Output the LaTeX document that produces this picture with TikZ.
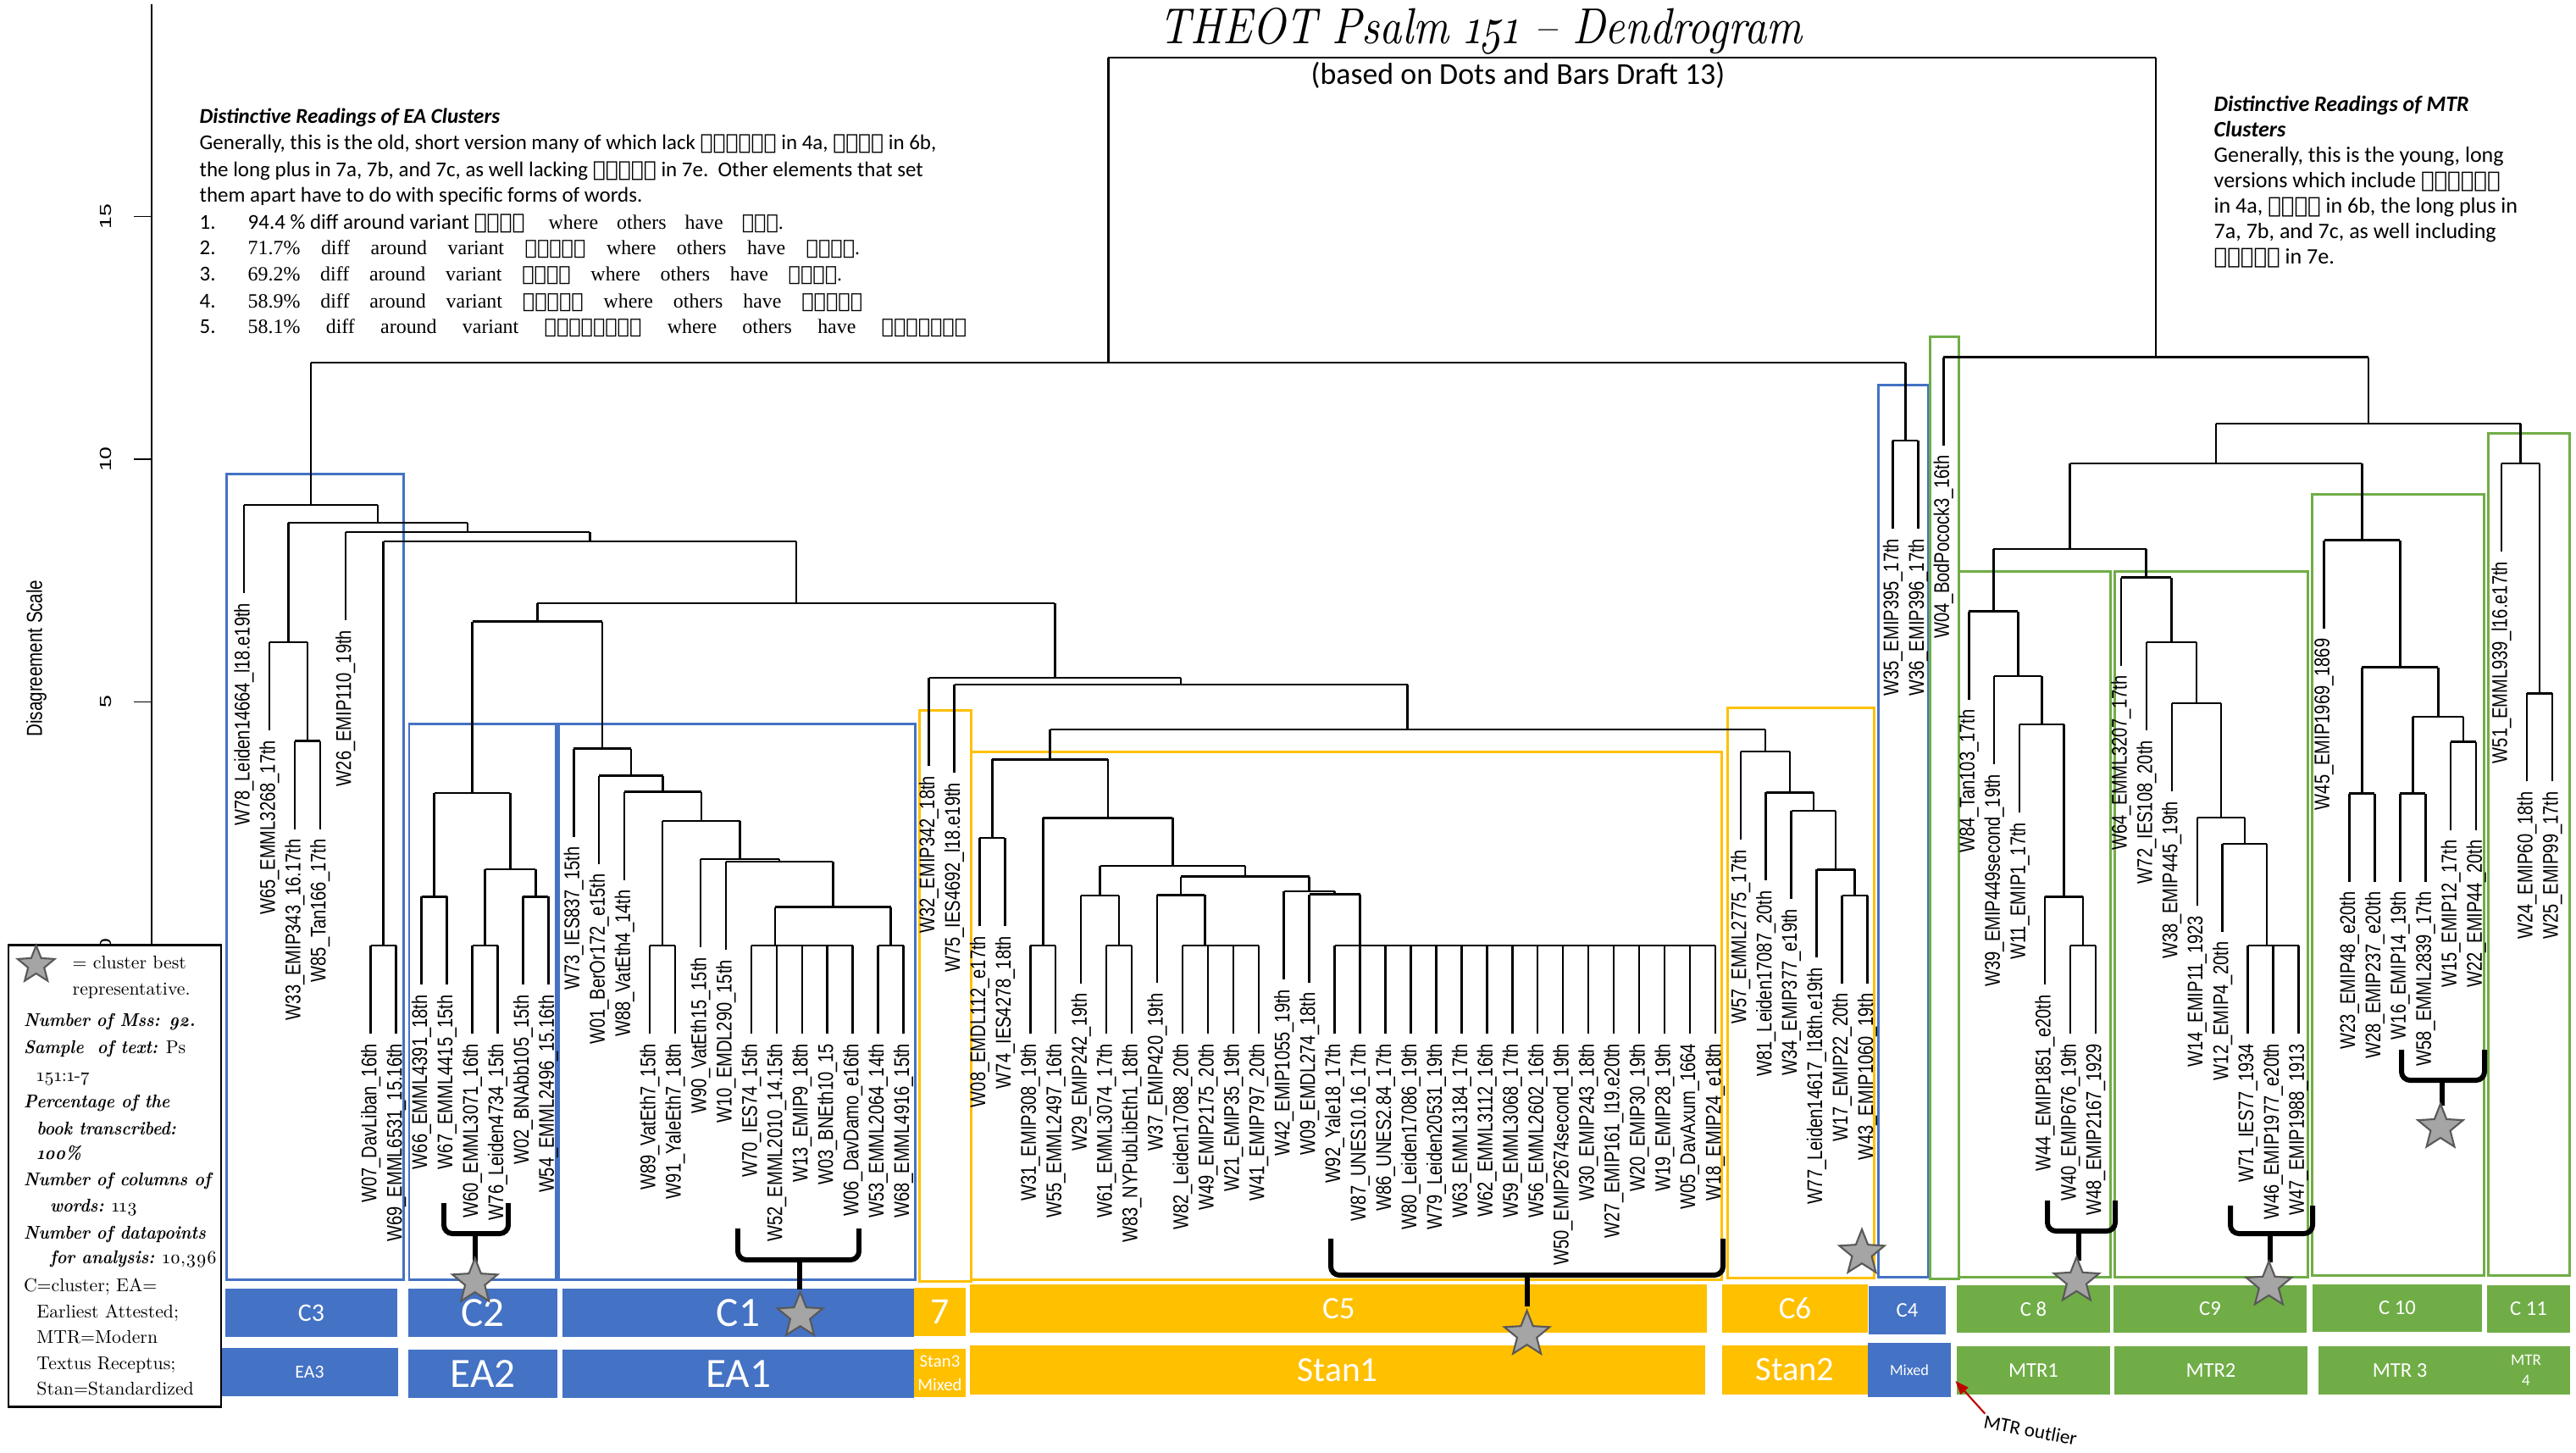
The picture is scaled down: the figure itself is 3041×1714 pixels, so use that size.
\documentclass[tikz,border=0pt]{standalone}
\usepackage{fontspec}
\usetikzlibrary{shapes.geometric,arrows.meta}
\setmainfont{Carlito}
\newfontfamily\leaffont[FakeStretch=0.8]{Liberation Sans}
\newfontfamily\tickfont[FakeStretch=1.4]{Liberation Sans}
\newfontfamily\serfont{Liberation Serif}
\newfontfamily\legfont{lmroman10-regular.otf}[Numbers=OldStyle,
  ItalicFont=lmroman10-italic.otf, BoldFont=lmroman10-bold.otf,
  BoldItalicFont=lmroman10-bolditalic.otf,
  BoldItalicFeatures={FakeStretch=0.9}]
\newfontfamily\titfont{lmroman10-italic.otf}[Numbers=OldStyle, FakeStretch=0.86]
\newfontfamily\ethfont{DejaVu Sans}
\newcommand{\ethw}[1]{{\ethfont #1}}
\definecolor{eablue}{HTML}{4472C4}
\definecolor{stanyel}{HTML}{FFC000}
\definecolor{mtrgreen}{HTML}{70AD47}
\definecolor{stargray}{HTML}{A5A5A5}
\definecolor{stardark}{HTML}{595959}
\definecolor{arrowred}{HTML}{C00000}
\begin{document}
\begin{tikzpicture}[x=0.01cm, y=-0.01cm,
  br/.style={line width=0.7pt},
  leaf/.style={rotate=90, anchor=east, inner sep=0pt, outer xsep=3.4pt, font=\leaffont\fontsize{7.15}{7.5}\selectfont},
  cbox/.style={line width=0.85pt},
  bar/.style={inner sep=0pt, text=white, align=center},
  starn/.style={star, star points=5, star point ratio=2.3, fill=stargray, draw=stardark, line width=0.6pt, inner sep=0pt, minimum size=0.56cm},
  brc/.style={line width=1.7pt, rounded corners=0.1cm},
  txt/.style={anchor=base west, inner sep=0pt, font=\fontsize{7.1}{8.5}\selectfont},
  rtxt/.style={anchor=base west, inner sep=0pt, font=\fontsize{7.4}{8.5}\selectfont},
  itm/.style={anchor=base west, inner sep=0pt, font=\serfont\fontsize{6.8}{8}\selectfont},
  lg/.style={anchor=base west, inner sep=0pt, font=\legfont\fontsize{6.2}{7}\selectfont}]
    \useasboundingbox (0,0) rectangle (3041,1714);

    % Заголовок
    \node[anchor=base, inner sep=0pt, font=\titfont\fontsize{17}{20}\selectfont] (title) at (1748,51.7) {THEOT Psalm 151 – Dendrogram};
    \node[anchor=base, inner sep=0pt, font=\fontsize{10.2}{12}\selectfont] (subt) at (1792,99) {(based on Dots and Bars Draft 13)};

    % Текст EA
    \node[txt, font=\bfseries\itshape\fontsize{7.1}{8.5}\selectfont] (ea0) at (235,145) {Distinctive Readings of EA Clusters};
    \node[txt] (ea1) at (235,176.7) {Generally, this is the old, short version many of which lack \ethw{ወአድኃነኒ} in 4a, \ethw{ርኵሳነ} in 6b,};
    \node[txt] (ea2) at (235,208) {the long plus in 7a, 7b, and 7c, as well lacking \ethw{ለጎልያድ} in 7e.\ \ Other elements that set};
    \node[txt] (ea3) at (235,238) {them apart have to do with specific forms of words.};
    \node[txt] (n1) at (235,270) {1.};
    \node[txt] (n2) at (235,300) {2.};
    \node[txt] (n3) at (235,331.7) {3.};
    \node[txt] (n4) at (235,363) {4.};
    \node[txt] (n5) at (235,393) {5.};
    \node[txt] (i1a) at (292,270) {94.4 \% diff around variant \ethw{ይነግር}};
    \node[itm] (i1b) at (647,270) {\makebox[2.77cm][s]{where others have \ethw{ነገር}.}};
    \node[itm] (i2) at (292,300) {\makebox[7.22cm][s]{71.7\% diff around variant \ethw{ይሰመዐኒ} where others have \ethw{ሰምዓኒ}.}};
    \node[itm] (i3) at (292,331.7) {\makebox[7.01cm][s]{69.2\% diff around variant \ethw{እደዊየ} where others have \ethw{እደውየ}.}};
    \node[itm] (i4) at (292,363) {\makebox[7.25cm][s]{58.9\% diff around variant \ethw{አኃዊየሰ} where others have \ethw{አኃውየሰ}}};
    \node[itm] (i5) at (292,393) {\makebox[8.48cm][s]{58.1\% diff around variant \ethw{በአማልክቲሆሙ} where others have \ethw{በአማልክቲሆ}}};

    % Текст MTR
    \node[rtxt, font=\bfseries\itshape\fontsize{7.4}{8.5}\selectfont] (m0) at (2613,131) {Distinctive Readings of MTR};
    \node[rtxt, font=\bfseries\itshape\fontsize{7.4}{8.5}\selectfont] (m1) at (2613,161.7) {Clusters};
    \node[rtxt] (m2) at (2613,191.7) {Generally, this is the young, long};
    \node[rtxt] (m3) at (2613,221.7) {versions which include \ethw{ወአድኃነኒ}};
    \node[rtxt] (m4) at (2613,251.7) {in 4a, \ethw{ርኵሳነ} in 6b, the long plus in};
    \node[rtxt] (m5) at (2613,281.7) {7a, 7b, and 7c, as well including};
    \node[rtxt] (m6) at (2613,311.7) {\ethw{ለጎልያድ} in 7e.};

    % Ось
    \draw[line width=0.8pt] (179,5) -- (179,1115);
    \draw[line width=0.45pt] (158,255.5) -- (179,255.5);
    \draw[line width=0.45pt] (158,542) -- (179,542);
    \draw[line width=0.45pt] (158,828.5) -- (179,828.5);
    \draw[line width=0.45pt] (158,1115) -- (179,1115);
    \node[rotate=90, inner sep=0pt, font=\tickfont\fontsize{5.4}{6}\selectfont] (t15) at (125,255.5) {15};
    \node[rotate=90, inner sep=0pt, font=\tickfont\fontsize{5.4}{6}\selectfont] (t10) at (125,542) {10};
    \node[rotate=90, inner sep=0pt, font=\tickfont\fontsize{5.4}{6}\selectfont] (t5) at (125,828.5) {5};
    \node[rotate=90, inner sep=0pt, font=\tickfont\fontsize{5.4}{6}\selectfont] (t0) at (125,1115) {0};
    \node[rotate=90, inner sep=0pt, font=\leaffont\fontsize{7.3}{8}\selectfont] (axlab) at (43,777) {Disagreement Scale};

    % Рамки кластеров
    \draw[cbox, eablue] (267.9,559) rectangle (476.6,1510);
    \draw[cbox, eablue] (483,854) rectangle (656.5,1510);
    \draw[cbox, eablue] (659.2,854) rectangle (1080.3,1510);
    \draw[cbox, stanyel] (1085,838) rectangle (1146,1512);
    \draw[cbox, stanyel] (1146.3,887.7) rectangle (2032,1510);
    \draw[cbox, stanyel] (2039.3,835) rectangle (2212.5,1508);
    \draw[cbox, eablue] (2217,454) rectangle (2276,1507);
    \draw[cbox, mtrgreen] (2278.5,397) rectangle (2312,1509);
    \draw[cbox, mtrgreen] (2312,674) rectangle (2491,1507);
    \draw[cbox, mtrgreen] (2496.7,674) rectangle (2724,1507);
    \draw[cbox, mtrgreen] (2729.3,583) rectangle (2932.7,1505);
    \draw[cbox, mtrgreen] (2937.3,511.5) rectangle (3033.3,1505);

    % Корень
    \draw[br] (1308.3,68) -- (2545,68);
    \draw[br] (367.1,428) -- (2249.4,428) (1308.3,428) -- (1308.3,68);
    \draw[br] (2234.4,520) -- (2264.4,520) (2249.4,520) -- (2249.4,428);
    % EA3
    \draw[br] (288,596) -- (446.2,596) (367.1,596) -- (367.1,428);
    \draw[br] (340.4,617) -- (552,617) (446.2,617) -- (446.2,596);
    \draw[br] (317.9,758) -- (362.9,758) (340.4,758) -- (340.4,617);
    \draw[br] (347.9,874.5) -- (377.8,874.5) (362.9,874.5) -- (362.9,758);
    \draw[br] (407.8,628) -- (696.3,628) (552,628) -- (552,617);
    \draw[br] (452.7,639) -- (939.8,639) (696.3,639) -- (696.3,628);
    \draw[br] (437.7,1116) -- (467.7,1116) (452.7,1116) -- (452.7,639);
    \draw[br] (634.3,712) -- (1245.3,712) (939.8,712) -- (939.8,639);
    \draw[br] (557.5,733.7) -- (711.1,733.7) (634.3,733.7) -- (634.3,712);
    % C2
    \draw[br] (512.6,935.8) -- (602.4,935.8) (557.5,935.8) -- (557.5,733.7);
    \draw[br] (497.6,1058.3) -- (527.6,1058.3) (512.6,1058.3) -- (512.6,935.8);
    \draw[br] (572.5,1025.8) -- (632.4,1025.8) (602.4,1025.8) -- (602.4,935.8);
    \draw[br] (557.5,1116) -- (587.5,1116) (572.5,1116) -- (572.5,1025.8);
    \draw[br] (617.4,1058.3) -- (647.3,1058.3) (632.4,1058.3) -- (632.4,1025.8);
    % C1
    \draw[br] (677.3,883.7) -- (744.9,883.7) (711.1,883.7) -- (711.1,733.7);
    \draw[br] (707.2,915.6) -- (782.5,915.6) (744.9,915.6) -- (744.9,883.7);
    \draw[br] (737.2,934.6) -- (827.9,934.6) (782.5,934.6) -- (782.5,915.6);
    \draw[br] (782.1,968.9) -- (873.6,968.9) (827.9,968.9) -- (827.9,934.6);
    \draw[br] (767.1,1116) -- (797.1,1116) (782.1,1116) -- (782.1,968.9);
    \draw[br] (827.0,1014.2) -- (920.2,1014.2) (873.6,1014.2) -- (873.6,968.9);
    \draw[br] (857.0,1017.2) -- (983.3,1017.2) (920.2,1017.2) -- (920.2,1014.2);
    \draw[br] (915,1070.5) -- (1051.6,1070.5) (983.3,1070.5) -- (983.3,1017.2);
    \draw[br] (886.9,1116) -- (1006.7,1116) (915,1116) -- (915,1070.5);
    \draw[br] (1036.6,1116) -- (1066.6,1116) (1051.6,1116) -- (1051.6,1070.5);
    % Stan
    \draw[br] (1096.5,800) -- (1394.1,800) (1245.3,800) -- (1245.3,712);
    \draw[br] (1126.5,808) -- (1661.7,808) (1394.1,808) -- (1394.1,800);
    \draw[br] (1239.6,861) -- (2083.8,861) (1661.7,861) -- (1661.7,808);
    % C5
    \draw[br] (1171.4,896.3) -- (1307.8,896.3) (1239.6,896.3) -- (1239.6,861);
    \draw[br] (1156.4,989) -- (1186.4,989) (1171.4,989) -- (1171.4,896.3);
    \draw[br] (1231.3,965.3) -- (1384.3,965.3) (1307.8,965.3) -- (1307.8,896.3);
    \draw[br] (1216.3,1116) -- (1246.2,1116) (1231.3,1116) -- (1231.3,965.3);
    \draw[br] (1298.7,1022) -- (1470,1022) (1384.3,1022) -- (1384.3,965.3);
    \draw[br] (1276.2,1056.8) -- (1321.1,1056.8) (1298.7,1056.8) -- (1298.7,1022);
    \draw[br] (1306.1,1116) -- (1336.1,1116) (1321.1,1116) -- (1321.1,1056.8);
    \draw[br] (1394.2,1034.7) -- (1545.7,1034.7) (1470,1034.7) -- (1470,1022);
    \draw[br] (1366.0,1056.4) -- (1422.3,1056.4) (1394.2,1056.4) -- (1394.2,1034.7);
    \draw[br] (1396.0,1116) -- (1485.8,1116) (1422.3,1116) -- (1422.3,1056.4);
    \draw[br] (1515.7,1052) -- (1575.6,1052) (1545.7,1052) -- (1545.7,1034.7);
    \draw[br] (1545.7,1055.5) -- (1605.5,1055.5) (1575.6,1055.5) -- (1575.6,1052);
    \draw[br] (1575.6,1116) -- (2024.8,1116) (1605.5,1116) -- (1605.5,1055.5);
    % C6
    \draw[br] (2054.8,887) -- (2112.8,887) (2083.8,887) -- (2083.8,861);
    \draw[br] (2084.7,935.4) -- (2140.8,935.4) (2112.8,935.4) -- (2112.8,887);
    \draw[br] (2114.6,957) -- (2167,957) (2140.8,957) -- (2140.8,935.4);
    \draw[br] (2144.6,1026.4) -- (2189.5,1026.4) (2167,1026.4) -- (2167,957);
    \draw[br] (2174.5,1056.8) -- (2204.5,1056.8) (2189.5,1056.8) -- (2189.5,1026.4);
    % MTR
    \draw[br] (2294.3,421.7) -- (2795.8,421.7) (2545,421.7) -- (2545,68);
    \draw[br] (2616,500) -- (2975.6,500) (2795.8,500) -- (2795.8,421.7);
    \draw[br] (2443.5,547) -- (2788.4,547) (2616,547) -- (2616,500);
    \draw[br] (2353.3,648) -- (2533.6,648) (2443.5,648) -- (2443.5,547);
    % C8
    \draw[br] (2324.3,721.5) -- (2382.3,721.5) (2353.3,721.5) -- (2353.3,648);
    \draw[br] (2354.2,798) -- (2410.4,798) (2382.3,798) -- (2382.3,721.5);
    \draw[br] (2384.2,855) -- (2436.6,855) (2410.4,855) -- (2410.4,798);
    \draw[br] (2414.1,1058.3) -- (2459,1058.3) (2436.6,1058.3) -- (2436.6,855);
    \draw[br] (2444.0,1116) -- (2474.0,1116) (2459,1116) -- (2459,1058.3);
    % C9
    \draw[br] (2503.9,681.7) -- (2563.4,681.7) (2533.6,681.7) -- (2533.6,648);
    \draw[br] (2533.9,758.2) -- (2592.8,758.2) (2563.4,758.2) -- (2563.4,681.7);
    \draw[br] (2563.8,829.9) -- (2621.9,829.9) (2592.8,829.9) -- (2592.8,758.2);
    \draw[br] (2593.8,965.2) -- (2649.9,965.2) (2621.9,965.2) -- (2621.9,829.9);
    \draw[br] (2623.7,995.8) -- (2676.1,995.8) (2649.9,995.8) -- (2649.9,965.2);
    \draw[br] (2653.7,1116) -- (2713.5,1116) (2676.1,1116) -- (2676.1,995.8);
    % C10
    \draw[br] (2743.5,637.7) -- (2833.3,637.7) (2788.4,637.7) -- (2788.4,547);
    \draw[br] (2788.4,787.5) -- (2878.3,787.5) (2833.3,787.5) -- (2833.3,637.7);
    \draw[br] (2773.4,936.6) -- (2803.4,936.6) (2788.4,936.6) -- (2788.4,787.5);
    \draw[br] (2848.3,846) -- (2908.2,846) (2878.3,846) -- (2878.3,787.5);
    \draw[br] (2833.3,936.6) -- (2863.3,936.6) (2848.3,936.6) -- (2848.3,846);
    \draw[br] (2893.2,875.5) -- (2923.2,875.5) (2908.2,875.5) -- (2908.2,846);
    % C11
    \draw[br] (2953.1,547) -- (2998,547) (2975.6,547) -- (2975.6,500);
    \draw[br] (2983.1,818.4) -- (3013.0,818.4) (2998,818.4) -- (2998,547);

    % Листья
    \draw[br] (288.0,596) -- ++(0,104) node[leaf] (w78) {W78\_Leiden14664\_l18.e19th};
    \draw[br] (317.9,758) -- ++(0,104) node[leaf] (w65) {W65\_EMML3268\_17th};
    \draw[br] (347.9,874.5) -- ++(0,104) node[leaf] (w33) {W33\_EMIP343\_16.17th};
    \draw[br] (377.8,874.5) -- ++(0,104) node[leaf] (w85) {W85\_Tan166\_17th};
    \draw[br] (407.8,628) -- ++(0,104) node[leaf] (w26) {W26\_EMIP110\_19th};
    \draw[br] (437.7,1116) -- ++(0,104) node[leaf] (w07) {W07\_DavLiban\_16th};
    \draw[br] (467.7,1116) -- ++(0,104) node[leaf] (w69) {W69\_EMML6531\_15.16th};
    \draw[br] (497.6,1058.3) -- ++(0,104) node[leaf] (w66) {W66\_EMML4391\_18th};
    \draw[br] (527.6,1058.3) -- ++(0,104) node[leaf] (w67) {W67\_EMML4415\_15th};
    \draw[br] (557.5,1116) -- ++(0,104) node[leaf] (w60) {W60\_EMML3071\_16th};
    \draw[br] (587.5,1116) -- ++(0,104) node[leaf] (w76) {W76\_Leiden4734\_15th};
    \draw[br] (617.4,1058.3) -- ++(0,104) node[leaf] (w02) {W02\_BNAbb105\_15th};
    \draw[br] (647.3,1058.3) -- ++(0,104) node[leaf] (w54) {W54\_EMML2496\_15.16th};
    \draw[br] (677.3,883.7) -- ++(0,104) node[leaf] (w73) {W73\_IES837\_15th};
    \draw[br] (707.2,915.6) -- ++(0,104) node[leaf] (w01) {W01\_BerOr172\_e15th};
    \draw[br] (737.2,934.6) -- ++(0,104) node[leaf] (w88) {W88\_VatEth4\_14th};
    \draw[br] (767.1,1116) -- ++(0,104) node[leaf] (w89) {W89\_VatEth7\_15th};
    \draw[br] (797.1,1116) -- ++(0,104) node[leaf] (w91) {W91\_YaleEth7\_18th};
    \draw[br] (827.0,1014.2) -- ++(0,104) node[leaf] (w90) {W90\_VatEth15\_15th};
    \draw[br] (857.0,1017.2) -- ++(0,104) node[leaf] (w10) {W10\_EMDL290\_15th};
    \draw[br] (886.9,1116) -- ++(0,104) node[leaf] (w70) {W70\_IES74\_15th};
    \draw[br] (916.8,1116) -- ++(0,104) node[leaf] (w52) {W52\_EMML2010\_14.15th};
    \draw[br] (946.8,1116) -- ++(0,104) node[leaf] (w13) {W13\_EMIP9\_18th};
    \draw[br] (976.7,1116) -- ++(0,104) node[leaf] (w03) {W03\_BNEth10\_15};
    \draw[br] (1006.7,1116) -- ++(0,104) node[leaf] (w06) {W06\_DavDamo\_e16th};
    \draw[br] (1036.6,1116) -- ++(0,104) node[leaf] (w53) {W53\_EMML2064\_14th};
    \draw[br] (1066.6,1116) -- ++(0,104) node[leaf] (w68) {W68\_EMML4916\_15th};
    \draw[br] (1096.5,800) -- ++(0,104) node[leaf] (w32) {W32\_EMIP342\_18th};
    \draw[br] (1126.5,808) -- ++(0,104) node[leaf] (w75) {W75\_IES4692\_l18.e19th};
    \draw[br] (1156.4,989) -- ++(0,104) node[leaf] (w08) {W08\_EMDL112\_e17th};
    \draw[br] (1186.4,989) -- ++(0,104) node[leaf] (w74) {W74\_IES4278\_18th};
    \draw[br] (1216.3,1116) -- ++(0,104) node[leaf] (w31) {W31\_EMIP308\_19th};
    \draw[br] (1246.2,1116) -- ++(0,104) node[leaf] (w55) {W55\_EMML2497\_16th};
    \draw[br] (1276.2,1056.8) -- ++(0,104) node[leaf] (w29) {W29\_EMIP242\_19th};
    \draw[br] (1306.1,1116) -- ++(0,104) node[leaf] (w61) {W61\_EMML3074\_17th};
    \draw[br] (1336.1,1116) -- ++(0,104) node[leaf] (w83) {W83\_NYPubLibEth1\_18th};
    \draw[br] (1366.0,1056.4) -- ++(0,104) node[leaf] (w37) {W37\_EMIP420\_19th};
    \draw[br] (1396.0,1116) -- ++(0,104) node[leaf] (w82) {W82\_Leiden17088\_20th};
    \draw[br] (1425.9,1116) -- ++(0,104) node[leaf] (w49) {W49\_EMIP2175\_20th};
    \draw[br] (1455.9,1116) -- ++(0,104) node[leaf] (w21) {W21\_EMIP35\_19th};
    \draw[br] (1485.8,1116) -- ++(0,104) node[leaf] (w41) {W41\_EMIP797\_20th};
    \draw[br] (1515.7,1052) -- ++(0,104) node[leaf] (w42) {W42\_EMIP1055\_19th};
    \draw[br] (1545.7,1055.5) -- ++(0,104) node[leaf] (w09) {W09\_EMDL274\_18th};
    \draw[br] (1575.6,1116) -- ++(0,104) node[leaf] (w92) {W92\_Yale18\_17th};
    \draw[br] (1605.6,1116) -- ++(0,104) node[leaf] (w87) {W87\_UNES10.16\_17th};
    \draw[br] (1635.5,1116) -- ++(0,104) node[leaf] (w86) {W86\_UNES2.84\_17th};
    \draw[br] (1665.5,1116) -- ++(0,104) node[leaf] (w80) {W80\_Leiden17086\_19th};
    \draw[br] (1695.4,1116) -- ++(0,104) node[leaf] (w79) {W79\_Leiden20531\_19th};
    \draw[br] (1725.4,1116) -- ++(0,104) node[leaf] (w63) {W63\_EMML3184\_17th};
    \draw[br] (1755.3,1116) -- ++(0,104) node[leaf] (w62) {W62\_EMML3112\_16th};
    \draw[br] (1785.3,1116) -- ++(0,104) node[leaf] (w59) {W59\_EMML3068\_17th};
    \draw[br] (1815.2,1116) -- ++(0,104) node[leaf] (w56) {W56\_EMML2602\_16th};
    \draw[br] (1845.1,1116) -- ++(0,104) node[leaf] (w50) {W50\_EMIP2674second\_19th};
    \draw[br] (1875.1,1116) -- ++(0,104) node[leaf] (w30) {W30\_EMIP243\_18th};
    \draw[br] (1905.0,1116) -- ++(0,104) node[leaf] (w27) {W27\_EMIP161\_l19.e20th};
    \draw[br] (1935.0,1116) -- ++(0,104) node[leaf] (w20) {W20\_EMIP30\_19th};
    \draw[br] (1964.9,1116) -- ++(0,104) node[leaf] (w19) {W19\_EMIP28\_19th};
    \draw[br] (1994.9,1116) -- ++(0,104) node[leaf] (w05) {W05\_DavAxum\_1664};
    \draw[br] (2024.8,1116) -- ++(0,104) node[leaf] (w18) {W18\_EMIP24\_e18th};
    \draw[br] (2054.8,887) -- ++(0,104) node[leaf] (w57) {W57\_EMML2775\_17th};
    \draw[br] (2084.7,935.4) -- ++(0,104) node[leaf] (w81) {W81\_Leiden17087\_20th};
    \draw[br] (2114.6,957) -- ++(0,104) node[leaf] (w34) {W34\_EMIP377\_e19th};
    \draw[br] (2144.6,1026.4) -- ++(0,104) node[leaf] (w77) {W77\_Leiden14617\_l18th.e19th};
    \draw[br] (2174.5,1056.8) -- ++(0,104) node[leaf] (w17) {W17\_EMIP22\_20th};
    \draw[br] (2204.5,1056.8) -- ++(0,104) node[leaf] (w43) {W43\_EMIP1060\_19th};
    \draw[br] (2234.4,520) -- ++(0,104) node[leaf] (w35) {W35\_EMIP395\_17th};
    \draw[br] (2264.4,520) -- ++(0,104) node[leaf] (w36) {W36\_EMIP396\_17th};
    \draw[br] (2294.3,421.7) -- ++(0,104) node[leaf] (w04) {W04\_BodPocock3\_16th};
    \draw[br] (2324.3,721.5) -- ++(0,104) node[leaf] (w84) {W84\_Tan103\_17th};
    \draw[br] (2354.2,798) -- ++(0,104) node[leaf] (w39) {W39\_EMIP449second\_19th};
    \draw[br] (2384.2,855) -- ++(0,104) node[leaf] (w11) {W11\_EMIP1\_17th};
    \draw[br] (2414.1,1058.3) -- ++(0,104) node[leaf] (w44) {W44\_EMIP1851\_e20th};
    \draw[br] (2444.0,1116) -- ++(0,104) node[leaf] (w40) {W40\_EMIP676\_19th};
    \draw[br] (2474.0,1116) -- ++(0,104) node[leaf] (w48) {W48\_EMIP2167\_1929};
    \draw[br] (2503.9,681.7) -- ++(0,104) node[leaf] (w64) {W64\_EMML3207\_17th};
    \draw[br] (2533.9,758.2) -- ++(0,104) node[leaf] (w72) {W72\_IES108\_20th};
    \draw[br] (2563.8,829.9) -- ++(0,104) node[leaf] (w38) {W38\_EMIP445\_19th};
    \draw[br] (2593.8,965.2) -- ++(0,104) node[leaf] (w14) {W14\_EMIP11\_1923};
    \draw[br] (2623.7,995.8) -- ++(0,104) node[leaf] (w12) {W12\_EMIP4\_20th};
    \draw[br] (2653.7,1116) -- ++(0,104) node[leaf] (w71) {W71\_IES77\_1934};
    \draw[br] (2683.6,1116) -- ++(0,104) node[leaf] (w46) {W46\_EMIP1977\_e20th};
    \draw[br] (2713.5,1116) -- ++(0,104) node[leaf] (w47) {W47\_EMIP1988\_1913};
    \draw[br] (2743.5,637.7) -- ++(0,104) node[leaf] (w45) {W45\_EMIP1969\_1869};
    \draw[br] (2773.4,936.6) -- ++(0,104) node[leaf] (w23) {W23\_EMIP48\_e20th};
    \draw[br] (2803.4,936.6) -- ++(0,104) node[leaf] (w28) {W28\_EMIP237\_e20th};
    \draw[br] (2833.3,936.6) -- ++(0,104) node[leaf] (w16) {W16\_EMIP14\_19th};
    \draw[br] (2863.3,936.6) -- ++(0,104) node[leaf] (w58) {W58\_EMML2839\_17th};
    \draw[br] (2893.2,875.5) -- ++(0,104) node[leaf] (w15) {W15\_EMIP12\_17th};
    \draw[br] (2923.2,875.5) -- ++(0,104) node[leaf] (w22) {W22\_EMIP44\_20th};
    \draw[br] (2953.1,547) -- ++(0,104) node[leaf] (w51) {W51\_EMML939\_l16.e17th};
    \draw[br] (2983.1,818.4) -- ++(0,104) node[leaf] (w24) {W24\_EMIP60\_18th};
    \draw[br] (3013.0,818.4) -- ++(0,104) node[leaf] (w25) {W25\_EMIP99\_17th};

    % Полосы кластеров
    \node[bar, fill=eablue, minimum width=2.03cm, minimum height=0.57cm, font=\fontsize{8.5}{9}\selectfont] (c3) at (367.5,1549.5) {C3};
    \node[bar, fill=eablue, minimum width=1.76cm, minimum height=0.57cm, font=\fontsize{14}{15}\selectfont] (c2) at (570,1549.5) {C2};
    \node[bar, fill=eablue, minimum width=4.15cm, minimum height=0.57cm, font=\fontsize{14}{15}\selectfont] (c1) at (871.5,1549.5) {C1};
    \node[bar, fill=stanyel, minimum width=0.61cm, minimum height=0.57cm, font=\fontsize{12.5}{13}\selectfont] (c7) at (1109.5,1548.5) {7};
    \node[bar, fill=stanyel, minimum width=8.695cm, minimum height=0.57cm, font=\fontsize{10.5}{11}\selectfont] (c5) at (1580.3,1544.5) {C5};
    \node[bar, fill=stanyel, minimum width=1.72cm, minimum height=0.57cm, font=\fontsize{10.5}{11}\selectfont] (c6) at (2119,1544.5) {C6};
    \node[bar, fill=eablue, minimum width=0.91cm, minimum height=0.57cm, font=\fontsize{7}{8}\selectfont] (c4) at (2251.5,1546.5) {C4};
    \node[bar, fill=mtrgreen, minimum width=1.81cm, minimum height=0.56cm, font=\fontsize{7}{8}\selectfont] (c8) at (2400.5,1545) {C 8};
    \node[bar, fill=mtrgreen, minimum width=2.28cm, minimum height=0.56cm, font=\fontsize{7}{8}\selectfont] (c9) at (2609,1545) {C9};
    \node[bar, fill=mtrgreen, minimum width=2.0cm, minimum height=0.56cm, font=\fontsize{7}{8}\selectfont] (c10) at (2830,1544) {C 10};
    \node[bar, fill=mtrgreen, minimum width=0.98cm, minimum height=0.56cm, font=\fontsize{7}{8}\selectfont] (c11) at (2985,1545) {C 11};
    \node[bar, fill=eablue, minimum width=2.09cm, minimum height=0.57cm, font=\fontsize{6.2}{7}\selectfont] (ea3) at (365.5,1619.5) {EA3};
    \node[bar, fill=eablue, minimum width=1.76cm, minimum height=0.57cm, font=\fontsize{14}{15}\selectfont] (ea2) at (570,1621.5) {EA2};
    \node[bar, fill=eablue, minimum width=4.15cm, minimum height=0.57cm, font=\fontsize{14}{15}\selectfont] (ea1) at (871.5,1621.5) {EA1};
    \node[bar, fill=stanyel, minimum width=0.61cm, minimum height=0.57cm, font=\fontsize{5.9}{8}\selectfont] (st3) at (1109.5,1620.5) {Stan3\\Mixed};
    \node[bar, fill=stanyel, minimum width=8.675cm, minimum height=0.58cm, font=\fontsize{11.8}{12}\selectfont] (st1) at (1579.3,1617) {Stan1};
    \node[bar, fill=stanyel, minimum width=1.72cm, minimum height=0.58cm, font=\fontsize{11.5}{12}\selectfont] (st2) at (2119,1617) {Stan2};
    \node[bar, fill=eablue, minimum width=0.98cm, minimum height=0.64cm, font=\fontsize{5.2}{6}\selectfont] (mix) at (2254,1617) {Mixed};
    \node[bar, fill=mtrgreen, minimum width=1.81cm, minimum height=0.57cm, font=\fontsize{7}{8}\selectfont] (mtr1) at (2400.5,1617.5) {MTR1};
    \node[bar, fill=mtrgreen, minimum width=2.28cm, minimum height=0.57cm, font=\fontsize{7}{8}\selectfont] (mtr2) at (2610,1617.5) {MTR2};
    \node[bar, fill=mtrgreen, minimum width=2.97cm, minimum height=0.57cm] (mtr34) at (2885.5,1617.5) {};
    \node[bar, font=\fontsize{7}{8}\selectfont] (mtr3) at (2833,1617.5) {MTR 3};
    \node[bar, font=\fontsize{5.4}{7}\selectfont] (mtr4) at (2982,1617.5) {MTR\\4};

    % Скобки
    \draw[brc] (524,1420) -- (524,1456) -- (600,1456) -- (600,1420);
    \draw[brc] (560.6,1456) -- (560.6,1490);
    \draw[brc] (871,1450) -- (871,1487) -- (1014,1487) -- (1014,1450);
    \draw[brc] (943.7,1487) -- (943.7,1522);
    \draw[brc] (1571,1462) -- (1571,1505) -- (2034,1505) -- (2034,1462);
    \draw[brc] (1802.6,1505) -- (1802.6,1542);
    \draw[brc] (2417,1417) -- (2417,1453) -- (2497,1453) -- (2497,1417);
    \draw[brc] (2454,1453) -- (2454,1488);
    \draw[brc] (2633,1423) -- (2633,1456) -- (2730,1456) -- (2730,1423);
    \draw[brc] (2680,1456) -- (2680,1490);
    \draw[brc] (2835,1239) -- (2835,1275) -- (2933,1275) -- (2933,1239);
    \draw[brc] (2882.7,1275) -- (2882.7,1305);

    % Звёзды
    \node[starn] (s2) at (560.7,1513) {};
    \node[starn] (s1) at (944.6,1553) {};
    \node[starn] (s5) at (1802.6,1575) {};
    \node[starn] (s6) at (2198,1479) {};
    \node[starn] (s8) at (2451.4,1511.7) {};
    \node[starn] (s9) at (2678.4,1516.7) {};
    \node[starn] (s10) at (2881,1330.8) {};

    % Выброс MTR
    \node[rotate=-11, inner sep=0pt, font=\fontsize{6.6}{7}\selectfont] (mtrout) at (2397,1688) {MTR outlier};
    \coordinate (outl) at (2308.4,1630);
    \draw[arrowred, line width=0.6pt, -{Triangle[length=0.16cm,width=0.12cm]}] (mtrout.north west) -- (outl);

    % Легенда
    \draw[line width=0.85pt, fill=white] (10,1115) rectangle (261,1660);
    \node[starn, minimum size=0.46cm] (lstar) at (42.7,1139) {};
    \node[lg] (l1) at (85,1143) {= cluster best};
    \node[lg] (l2) at (85,1174.4) {representative.};
    \node[lg] (l3) at (27.3,1211.6) {\bfseries\itshape Number of Mss: 92.};
    \node[lg] (l4) at (27.3,1243) {{\bfseries\itshape Sample\ \ of text:} Ps};
    \node[lg] (l5) at (42.7,1276) {151:1-7};
    \node[lg] (l6) at (27.3,1307.5) {\bfseries\itshape Percentage of the};
    \node[lg] (l7) at (42.7,1339.6) {\bfseries\itshape book transcribed:};
    \node[lg] (l8) at (42.7,1368) {\bfseries\itshape 100\%};
    \node[lg] (l9) at (27.3,1399.5) {\bfseries\itshape Number of columns of};
    \node[lg] (l10) at (58.3,1430.9) {{\bfseries\itshape words:} 113};
    \node[lg] (l11) at (27.3,1462) {\bfseries\itshape Number of datapoints};
    \node[lg] (l12) at (58.3,1491.5) {{\bfseries\itshape for analysis:} 10,396};
    \node[lg] (l13) at (27.3,1524.8) {C=cluster; EA=};
    \node[lg] (l14) at (42.7,1555) {Earliest Attested;};
    \node[lg] (l15) at (42.7,1585.5) {MTR=Modern};
    \node[lg] (l16) at (42.7,1616) {Textus Receptus;};
    \node[lg] (l17) at (42.7,1646) {Stan=Standardized};
\end{tikzpicture}
\end{document}
